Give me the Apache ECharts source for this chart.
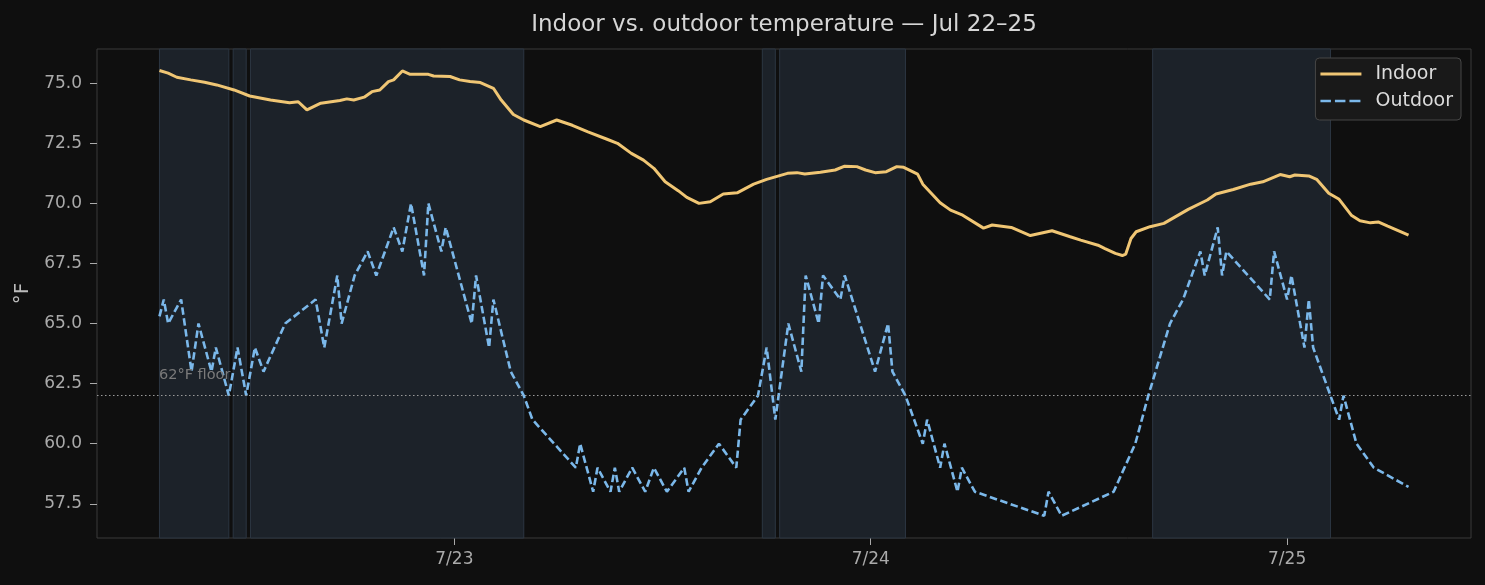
<!DOCTYPE html>
<html>
<head>
<meta charset="utf-8">
<title>Indoor vs. outdoor temperature</title>
<script src="https://cdn.jsdelivr.net/npm/echarts@6/dist/echarts.min.js"></script>
<style>
  html, body { margin: 0; padding: 0; background: #0f0f0f; }
  #chart { width: 1485px; height: 585px; }
</style>
</head>
<body>
<div id="chart"></div>
<script>
// readings, as hours after Jul 22 07:00
const indoorHours = [0, 0.5, 1, 1.8, 2.6, 3.3, 4.3, 5.2, 6.4, 7.5, 8, 8.5, 9.3, 10.4, 10.8, 11.2, 11.8, 12.25, 12.7, 13.2,
  13.5, 14, 14.45, 15.5, 15.8, 16.75, 17.3, 17.9, 18.5, 19.25, 19.7, 20.4, 21, 21.95, 22.9, 23.8, 24.7, 25.8, 26.4, 27.2,
  27.9, 28.5, 29.15, 29.9, 30.4, 31.1, 31.75, 32.5, 33.3, 34.25, 35, 36.2, 36.75, 37.2, 38.1, 38.95, 39.5, 40.2, 40.7, 41.25,
  41.9, 42.5, 42.9, 43.7, 44, 45, 45.6, 46.3, 47.5, 48, 49.1, 50.2, 51.45, 52.5, 53.1, 54.1, 54.5, 55.1, 55.5, 55.7,
  56, 56.3, 57.1, 57.9, 58.5, 59.3, 60.4, 60.9, 61.9, 62.9, 63.6, 64.6, 65.15, 65.45, 66.25, 66.7, 67.4, 68, 68.7, 69.2,
  69.8, 70.25, 70.8, 72];
const indoorTemps = [75.53, 75.42, 75.25, 75.14, 75.04, 74.93, 74.72, 74.47, 74.3, 74.19, 74.23, 73.89, 74.17, 74.28, 74.35, 74.3, 74.42, 74.65, 74.72, 75.07,
  75.14, 75.51, 75.37, 75.37, 75.3, 75.28, 75.14, 75.07, 75.03, 74.79, 74.3, 73.7, 73.47, 73.19, 73.47, 73.25, 72.98, 72.67, 72.5, 72.08,
  71.8, 71.46, 70.9, 70.53, 70.25, 70.0, 70.07, 70.39, 70.44, 70.8, 71.0, 71.25, 71.28, 71.22, 71.3, 71.39, 71.55, 71.53, 71.39, 71.28,
  71.32, 71.53, 71.5, 71.22, 70.8, 70.03, 69.72, 69.51, 68.97, 69.1, 69.0, 68.66, 68.86, 68.61, 68.47, 68.26, 68.12, 67.92, 67.83, 67.89,
  68.54, 68.82, 69.03, 69.17, 69.42, 69.75, 70.14, 70.39, 70.58, 70.8, 70.9, 71.2, 71.11, 71.18, 71.14, 71.0, 70.42, 70.17, 69.51, 69.28,
  69.19, 69.23, 69.05, 68.68];

const outdoorHours = [0, 0.25, 0.5, 1.25, 1.85, 2.25, 3, 3.25, 4, 4.5, 5, 5.5, 6, 7.25, 9, 9.5, 10.25, 10.5, 11.25, 12,
  12.5, 13.5, 14, 14.5, 15.25, 15.5, 16.25, 16.5, 18, 18.25, 19, 19.25, 20.25, 21, 21.5, 24, 24.25, 25, 25.25, 26,
  26.25, 26.5, 27.25, 28, 28.5, 29.25, 30.25, 30.5, 31.25, 32.25, 33.25, 33.5, 34.5, 35, 35.5, 36.25, 37, 37.25, 38, 38.25,
  39.25, 39.5, 41.25, 42, 42.25, 43, 44, 44.25, 45, 45.25, 46, 46.25, 47, 51, 51.25, 52, 55, 56.25, 57, 58.25,
  59, 60, 60.25, 61, 61.25, 61.5, 64, 64.25, 65, 65.25, 66, 66.25, 66.5, 68, 68.25, 69, 70, 72];
const outdoorTemps = [65.3, 66, 65, 66, 63, 65, 63, 64, 62, 64, 62, 64, 63, 65, 66, 64, 67, 65, 67, 68,
  67, 69, 68, 70, 67, 70, 68, 69, 65, 67, 64, 66, 63, 62, 61, 59, 60, 58, 59, 58,
  59, 58, 59, 58, 59, 58, 59, 58, 59, 60, 59, 61, 62, 64, 61, 65, 63, 67, 65, 67,
  66, 67, 63, 65, 63, 62, 60, 61, 59, 60, 58, 59, 58, 57, 58, 57, 58, 60, 62, 65,
  66, 68, 67, 69, 67, 68, 66, 68, 66, 67, 64, 66, 64, 61, 62, 60, 59, 58.2];

// shaded periods, hours after start
const shadedFrom = [0, 4.25, 5.25, 34.75, 35.75, 57.25];
const shadedTo = [4, 5, 21, 35.5, 43, 67.5];

const yTicks = [57.5, 60, 62.5, 65, 67.5, 70, 72.5, 75];
const dayTicks = [17, 41, 65];            // midnights, hours after start
const dayLabels = ['7/23', '7/24', '7/25'];
const floorTemp = 62;

const span = 72;
const pad = span * 0.05;

const indoorData = indoorHours.map((h, i) => [h, indoorTemps[i]]);
const outdoorData = outdoorHours.map((h, i) => [h, outdoorTemps[i]]);
const areas = shadedFrom.map((h, i) => [{ xAxis: h }, { xAxis: shadedTo[i] }]);

const font = 'DejaVu Sans';
const chart = echarts.init(document.getElementById('chart'));
const option = {
  backgroundColor: '#0f0f0f',
  animation: false,
  textStyle: { fontFamily: font },
  title: {
    text: 'Indoor vs. outdoor temperature \u2014 Jul 22\u201325',
    left: 779, top: 9, textAlign: 'center',
    textStyle: { color: '#d6d6d6', fontSize: 23, fontWeight: 'normal', fontFamily: font }
  },
  grid: {
    left: 97, right: 14, top: 49, bottom: 47,
    show: true, borderColor: '#3a3a3a', borderWidth: 1, backgroundColor: 'transparent'
  },
  legend: {
    orient: 'vertical',
    right: 24, top: 58,
    padding: [6, 8, 9, 5],
    itemGap: 7,
    itemWidth: 50, itemHeight: 3,
    backgroundColor: '#191919',
    borderColor: '#464646', borderWidth: 1, borderRadius: 4,
    itemStyle: { borderWidth: 0 },
    textStyle: { color: '#dcdcdc', fontSize: 19, lineHeight: 20, fontFamily: font },
    data: [
      { name: 'Indoor', icon: 'path://M0,0H41V3H0Z M50,0L50,3' },
      { name: 'Outdoor', icon: 'path://M0,0.3H10.5V2.7H0Z M14.5,0.3H25V2.7H14.5Z M29,0.3H40V2.7H29Z M50,0L50,3' }
    ]
  },
  xAxis: {
    type: 'value',
    min: -pad,
    max: span + pad,
    axisLine: { show: false, onZero: false },
    splitLine: { show: false },
    axisTick: { show: true, length: 7, lineStyle: { color: '#aaa' }, customValues: dayTicks },
    axisLabel: {
      color: '#aaa', fontSize: 17, margin: 13, fontFamily: font,
      customValues: dayTicks,
      formatter: v => dayLabels[dayTicks.indexOf(v)]
    }
  },
  yAxis: {
    type: 'value',
    min: 56.075, max: 76.425,
    name: '\u00b0F', nameLocation: 'middle', nameGap: 59, nameRotate: 90,
    nameTextStyle: { color: '#bbb', fontSize: 20, fontFamily: font },
    axisLine: { show: false, onZero: false },
    splitLine: { show: false },
    axisTick: { show: true, length: 7, lineStyle: { color: '#aaa' }, customValues: yTicks },
    axisLabel: {
      color: '#aaa', fontSize: 17, margin: 15, fontFamily: font,
      customValues: yTicks,
      formatter: v => v.toFixed(1)
    }
  },
  series: [
    {
      name: 'Outdoor',
      type: 'line',
      data: outdoorData,
      symbol: 'none',
      z: 3,
      lineStyle: { color: '#7bb8ea', width: 2.6, type: [7.5, 3.5] },
      itemStyle: { color: '#7bb8ea' },
      markArea: {
        silent: true,
        itemStyle: { color: '#1c2229', borderColor: '#2c3642', borderWidth: 1 },
        data: areas
      },
      markLine: {
        silent: true,
        symbol: 'none',
        lineStyle: { color: '#9a9a9a', width: 1.2, type: [1.5, 2.5] },
        label: { show: false },
        data: [{ yAxis: floorTemp }]
      },
      markPoint: {
        silent: true,
        symbol: 'rect', symbolSize: 1,
        itemStyle: { color: 'transparent' },
        label: {
          show: true, position: [0, -20], align: 'left', verticalAlign: 'middle',
          color: '#7a7a7a', fontSize: 14.5, fontFamily: font,
          formatter: floorTemp + '\u00b0F floor'
        },
        data: [{ coord: [0, floorTemp] }]
      }
    },
    {
      name: 'Indoor',
      type: 'line',
      data: indoorData,
      symbol: 'none',
      z: 4,
      lineStyle: { color: '#f0c674', width: 3 },
      itemStyle: { color: '#f0c674' }
    }
  ]
};
chart.setOption(option);
</script>
</body>
</html>
